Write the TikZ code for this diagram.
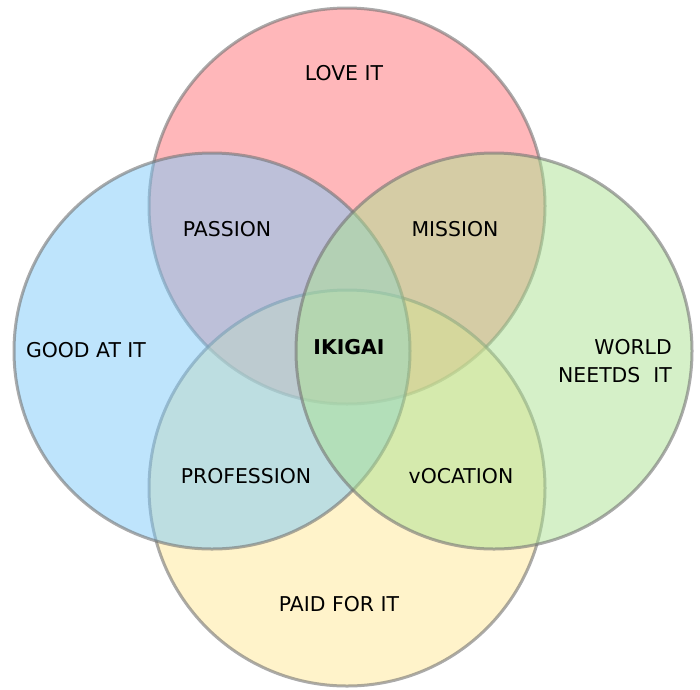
\documentclass[tikz,border=0pt]{standalone}
\usepackage{fontspec}
\setmainfont{DejaVu Sans}
\definecolor{cred}{RGB}{255,111,117}
\definecolor{cblue}{RGB}{125,201,249}
\definecolor{cgreen}{RGB}{171,225,145}
\definecolor{cyellow}{RGB}{255,231,149}
\definecolor{cborder}{RGB}{115,115,115}
\begin{document}
\begin{tikzpicture}[x=1pt,y=-1pt,
  ring/.style={circle,minimum size=396pt,inner sep=0pt,fill opacity=0.5,draw=cborder,draw opacity=0.6,line width=3pt},
  lbl/.style={font=\fontsize{20.4}{28}\selectfont,text=black,inner sep=0pt}]
\useasboundingbox (0,0) rectangle (700,689);
\node[ring,fill=cred] (love) at (347,206) {};
\node[ring,fill=cyellow] (paid) at (347,488) {};
\node[ring,fill=cblue] (good) at (212,351) {};
\node[ring,fill=cgreen] (world) at (494,351) {};
\node[lbl] (tlove) at (344,73) {LOVE IT};
\node[lbl] (tpassion) at (227,229) {PASSION};
\node[lbl] (tmission) at (455,229) {MISSION};
\node[lbl] (tgood) at (86,350) {GOOD AT IT};
\node[lbl,font=\fontsize{20.4}{28}\selectfont\bfseries] (tikigai) at (349,347) {IKIGAI};
\node[lbl,align=right,anchor=east] (tworld) at (672,361) {WORLD\\NEETDS\ \ IT};
\node[lbl] (tprof) at (246,476) {PROFESSION};
\node[lbl] (tvoc) at (461,476) {vOCATION};
\node[lbl] (tpaid) at (339,604) {PAID FOR IT};
\end{tikzpicture}
\end{document}
